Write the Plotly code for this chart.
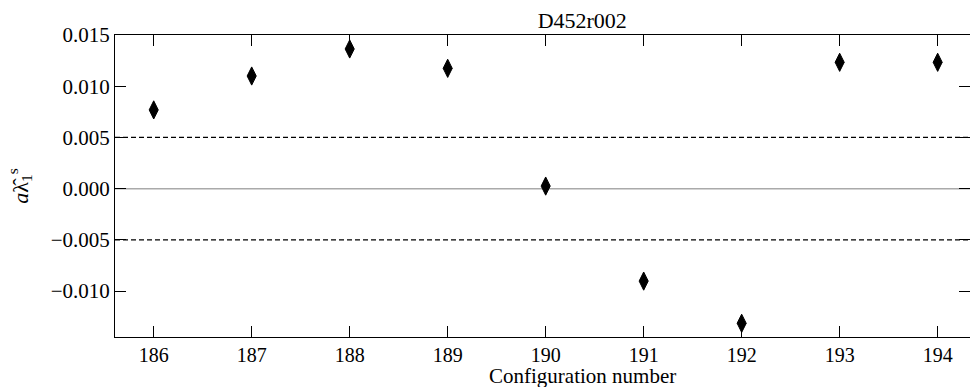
import plotly.graph_objects as go

configs = [186, 187, 188, 189, 190, 191, 192, 193, 194]
values = [0.00769, 0.0110, 0.01364, 0.01175, 0.00025, -0.00903, -0.01315, 0.01234, 0.01234]
dashed_levels = [0.005, -0.005]
zero_level = 0.0
y_ticks = [-0.010, -0.005, 0.000, 0.005, 0.010, 0.015]
x_ticks = configs

FONT = "Liberation Serif"

fig = go.Figure()
fig.add_trace(go.Scatter(
    x=configs, y=values, mode="markers",
    marker=dict(symbol="diamond-tall", size=13, color="black",
                line=dict(color="black", width=1)),
    showlegend=False, cliponaxis=False,
))

for lv in dashed_levels:
    fig.add_shape(type="line", xref="paper", x0=0, x1=1, yref="y", y0=lv, y1=lv,
                  line=dict(color="black", width=1.3, dash="5px,3px"), layer="below")
fig.add_shape(type="line", xref="paper", x0=0, x1=1, yref="y", y0=zero_level, y1=zero_level,
              line=dict(color="#aaaaaa", width=1.5), layer="below")

fig.add_annotation(text="Configuration number", xref="paper", yref="paper",
                   x=0.5465, y=-39 / 302, xanchor="center", yanchor="middle",
                   showarrow=False, font=dict(family=FONT, size=21, color="black"))

fig.update_layout(
    width=970, height=387,
    margin=dict(l=115, r=0, t=35, b=50),
    paper_bgcolor="white", plot_bgcolor="white",
    font=dict(family=FONT, size=21, color="black"),
    title=dict(text="D452r002", x=0.5465, xref="paper", xanchor="center",
               y=1, yref="paper", yanchor="bottom", pad=dict(b=7),
               font=dict(family=FONT, size=22, color="black")),
)
fig.update_xaxes(
    range=[185.605, 194.33], tickvals=x_ticks, ticktext=[str(c) for c in x_ticks],
    ticks="inside", ticklen=11, tickwidth=1, tickcolor="black",
    showline=True, linecolor="black", linewidth=1, mirror="ticks",
    showgrid=False, zeroline=False,
    tickfont=dict(family=FONT, size=20),
    automargin=False,
)
fig.update_yaxes(
    range=[-0.01449, 0.015005], tickvals=y_ticks, tickformat=".3f",
    ticks="inside", ticklen=11, tickwidth=1, tickcolor="black",
    showline=True, linecolor="black", linewidth=1, mirror="ticks",
    showgrid=False, zeroline=False,
    tickfont=dict(family=FONT, size=21),
    title=dict(text="<i>a</i>λ\u0302<sub>1</sub><sup>s</sup>", standoff=16,
               font=dict(family=FONT, size=22)),
    automargin=False,
)

fig.write_html("out.html")
